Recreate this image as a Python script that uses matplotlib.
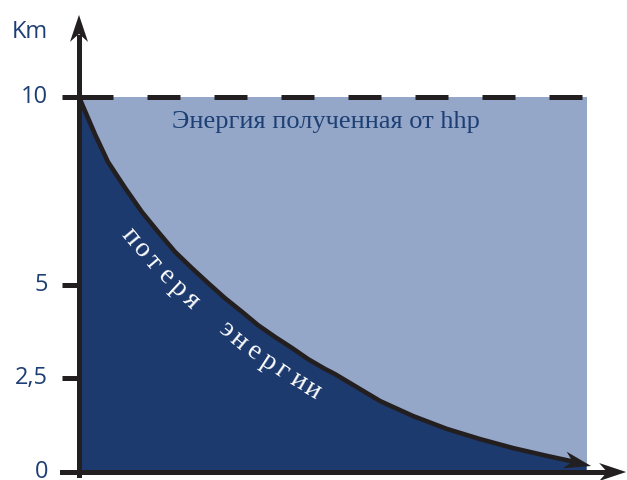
import numpy as np
import matplotlib.pyplot as plt
from matplotlib.patches import Polygon

# values
curve_x = [0, 0.32, 0.57, 0.91, 1.24, 1.56, 1.89, 2.22, 2.54, 2.87, 3.21, 3.52, 3.86,
           4.19, 4.51, 4.84, 5.04, 5.93, 6.58, 7.24, 7.89, 8.54, 9.21, 9.86, 9.98]
curve_y = [10, 8.99, 8.27, 7.57, 6.93, 6.40, 5.87, 5.44, 5.04, 4.64, 4.27, 3.92, 3.60,
           3.31, 3.01, 2.75, 2.61, 1.89, 1.49, 1.15, 0.88, 0.64, 0.43, 0.24, 0.19]
top_level = 10
x_end = 10
yticks = [0, 2.5, 5, 10]
ytick_labels = ['0', '2,5', '5', '10']
y_label = 'Km'
top_text = 'Энергия полученная от hhp'
curve_words = ['потеря', 'энергии']

dark = '#1c3a6e'
light = '#94a7c8'
ink = '#231f20'
blue_txt = '#1d3f73'

fig = plt.figure(figsize=(6.27, 4.8), dpi=100)
ax = fig.add_axes([0, 0, 1, 1])
ax.set_xlim(-1.555, 10.787)
ax.set_ylim(-0.213, 12.587)
ax.axis('off')

# areas
ax.fill_between([0, x_end], 0, top_level, color=light, lw=0, zorder=1)
ax.fill_between(curve_x, 0, curve_y, color=dark, lw=0, zorder=2)
ax.plot(curve_x[:-1], curve_y[:-1], color=ink, lw=3.3, zorder=3,
        solid_capstyle='butt', solid_joinstyle='round')
ax.plot([0.02, 9.96], [top_level, top_level], color=ink, lw=3.6,
        dashes=(6.6, 6.8), zorder=4)


def head(tip, ang, L, W, notch):
    # swept arrow head, sizes in pixels
    t = ax.transData.transform(tip)
    u = np.array([np.cos(ang), np.sin(ang)])
    n = np.array([-u[1], u[0]])
    pts = [t, t - L * u + W / 2 * n, t - (L - notch) * u, t - L * u - W / 2 * n]
    pts = ax.transData.inverted().transform(pts)
    ax.add_patch(Polygon(pts, closed=True, color=ink, lw=0, zorder=6))


# axes
ax.plot([0, 0], [-0.08, 11.6], color=ink, lw=3.6, zorder=5)
head((0, 12.19), np.pi / 2, 27, 18, 8)
ax.plot([-0.335, 10.4], [0, 0], color=ink, lw=3.6, zorder=5)
head((10.77, 0), 0, 27, 18, 8)

# curve arrow
p = ax.transData.transform(list(zip(curve_x[-3:], curve_y[-3:])))
ang = np.arctan2(p[-1][1] - p[0][1], p[-1][0] - p[0][0])
head((curve_x[-1] + 0.1, curve_y[-1] - 0.03), ang, 27, 17, 8)

# ticks
for v, lab in zip(yticks, ytick_labels):
    ax.plot([-0.335, 0], [v, v], color=ink, lw=3.6, zorder=5, solid_capstyle='butt')
    ax.text(-0.61, v, lab, ha='right', va='center', fontsize=17,
            family='Open Sans', color=blue_txt)
ax.text(-0.61, 11.73, y_label, ha='right', va='center', fontsize=17,
        family='Open Sans', color=blue_txt)

ax.text(1.83, 9.17, top_text, ha='left', va='baseline', fontsize=19,
        family='Liberation Serif', color=blue_txt, zorder=7)

# text along the curve (arc positions in pixels)
pix = ax.transData.transform(list(zip(curve_x, curve_y)))
seg = np.diff(pix, axis=0)
seglen = np.hypot(seg[:, 0], seg[:, 1])
cum = np.concatenate([[0], np.cumsum(seglen)])
for word, s0 in zip(curve_words, [143, 272]):
    for i, ch in enumerate(word):
        s = s0 + 17 * i
        k = np.searchsorted(cum, s) - 1
        u = seg[k] / seglen[k]
        pt = pix[k] + u * (s - cum[k])
        nrm = np.array([u[1], -u[0]])
        xy = ax.transData.inverted().transform(pt + nrm * 31)
        ax.text(xy[0], xy[1], ch, rotation=np.degrees(np.arctan2(u[1], u[0])),
                rotation_mode='anchor', ha='center', va='baseline', fontsize=20,
                family='Liberation Serif', color='white', zorder=7)

fig.savefig('out.png', dpi=100)
